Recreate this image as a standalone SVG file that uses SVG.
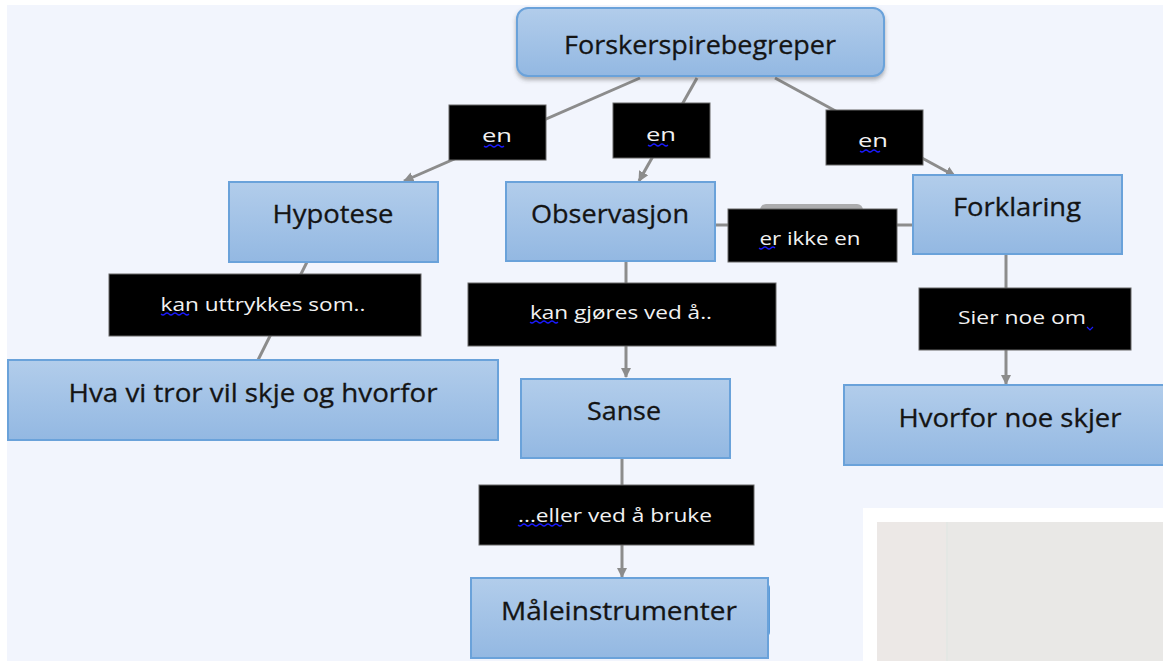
<svg xmlns="http://www.w3.org/2000/svg" width="1163" height="661" viewBox="0 0 1163 661">
<defs>
<linearGradient id="g" x1="0" y1="0" x2="0" y2="1">
<stop offset="0" stop-color="#b2cdeb"/>
<stop offset="1" stop-color="#93b8e2"/>
</linearGradient>
<marker id="ah" viewBox="0 0 10 10" refX="9" refY="5" markerWidth="3.5" markerHeight="6" orient="auto" markerUnits="strokeWidth">
<path d="M0,0 L10,5 L0,10 z" fill="#8c8c8c"/>
</marker>
<filter id="sh" x="-10%" y="-10%" width="120%" height="140%">
<feDropShadow dx="0" dy="3" stdDeviation="2" flood-color="#555" flood-opacity="0.45"/>
</filter>
</defs>
<style>
.node{fill:url(#g);stroke:#6aa2da;stroke-width:2}
.nt{font-family:"Open Sans","Noto Sans",sans-serif;font-size:26px;fill:#141414;text-anchor:middle;stroke:#141414;stroke-width:0.3}
.lab{fill:#000;stroke:#666;stroke-width:1}
.lt{font-family:"Open Sans","Noto Sans",sans-serif;font-size:18px;fill:#f2f2f2;text-anchor:middle}
.c{stroke:#8c8c8c;stroke-width:3;fill:none}
.sq{stroke:#1a1aff;stroke-width:1.2;fill:none}
</style>
<rect x="0" y="0" width="1163" height="661" fill="#ffffff"/>
<rect x="7" y="5" width="1156" height="656" fill="#f2f5fd"/>
<g id="photo">
<rect x="863" y="508" width="300" height="153" fill="#ffffff"/>
<rect x="877" y="522" width="286" height="139" fill="#e9e8e6"/>
<rect x="877" y="522" width="70" height="139" fill="#ece8e6"/>
<rect x="946" y="522" width="2" height="139" fill="#e4e7e4"/>
</g>
<g id="connectors">
<line class="c" x1="640" y1="78" x2="404" y2="181" marker-end="url(#ah)"/>
<line class="c" x1="697" y1="78" x2="639" y2="181" marker-end="url(#ah)"/>
<line class="c" x1="775" y1="78" x2="955" y2="176" marker-end="url(#ah)"/>
<line class="c" x1="715" y1="225" x2="913" y2="225"/>
<rect x="760" y="204" width="103" height="12" rx="6" fill="#9a9a9a" opacity="0.8"/>
<line class="c" x1="307" y1="262" x2="258" y2="360"/>
<line class="c" x1="626" y1="261" x2="626" y2="377" marker-end="url(#ah)"/>
<line class="c" x1="1006" y1="254" x2="1006" y2="384" marker-end="url(#ah)"/>
<line class="c" x1="622" y1="458" x2="622" y2="577" marker-end="url(#ah)"/>
</g>
<g id="n-forsker">
<rect class="node" x="517" y="8" width="367" height="68" rx="11" filter="url(#sh)"/>
<text class="nt" x="700" y="54" textLength="272" lengthAdjust="spacingAndGlyphs">Forskerspirebegreper</text>
</g>
<g id="n-hypotese">
<rect class="node" x="229" y="182" width="209" height="80"/>
<text class="nt" x="333" y="223" textLength="121" lengthAdjust="spacingAndGlyphs">Hypotese</text>
</g>
<g id="n-observasjon">
<rect class="node" x="506" y="182" width="209" height="79"/>
<text class="nt" x="610" y="223" textLength="158" lengthAdjust="spacingAndGlyphs">Observasjon</text>
</g>
<g id="n-forklaring">
<rect class="node" x="913" y="175" width="209" height="79"/>
<text class="nt" x="1017" y="216" textLength="128" lengthAdjust="spacingAndGlyphs">Forklaring</text>
</g>
<g id="n-hva">
<rect class="node" x="8" y="360" width="490" height="80"/>
<text class="nt" x="253" y="402" textLength="369" lengthAdjust="spacingAndGlyphs">Hva vi tror vil skje og hvorfor</text>
</g>
<g id="n-sanse">
<rect class="node" x="521" y="379" width="209" height="79"/>
<text class="nt" x="624" y="420" textLength="74" lengthAdjust="spacingAndGlyphs">Sanse</text>
</g>
<g id="n-hvorfor">
<rect class="node" x="844" y="385" width="320" height="80"/>
<text class="nt" x="1010" y="427" textLength="223" lengthAdjust="spacingAndGlyphs">Hvorfor noe skjer</text>
</g>
<g id="n-maale">
<rect x="762" y="584" width="8" height="52" rx="4" fill="#5b9bd8"/>
<rect class="node" x="471" y="578" width="297" height="80"/>
<text class="nt" x="619" y="620" textLength="236" lengthAdjust="spacingAndGlyphs">Måleinstrumenter</text>
</g>
<g id="l-en1">
<rect class="lab" x="449" y="105" width="97" height="55"/>
<text class="lt" x="497" y="142" textLength="30" lengthAdjust="spacingAndGlyphs">en</text>
<path class="sq" d="M484,146 q2,2 4,0 t4,0 t4,0 t4,0 t4,0"/>
</g>
<g id="l-en2">
<rect class="lab" x="613" y="103" width="97" height="55"/>
<text class="lt" x="661" y="141" textLength="30" lengthAdjust="spacingAndGlyphs">en</text>
<path class="sq" d="M648,145 q2,2 4,0 t4,0 t4,0 t4,0 t4,0"/>
</g>
<g id="l-en3">
<rect class="lab" x="826" y="110" width="97" height="55"/>
<text class="lt" x="873" y="147" textLength="30" lengthAdjust="spacingAndGlyphs">en</text>
<path class="sq" d="M860,151 q2,2 4,0 t4,0 t4,0 t4,0 t4,0"/>
</g>
<g id="l-erikke">
<rect class="lab" x="728" y="209" width="169" height="53"/>
<text class="lt" x="810" y="245" textLength="101" lengthAdjust="spacingAndGlyphs">er ikke en</text>
<path class="sq" d="M759,248 q2,2 4,0 t4,0 t4,0 t4,0"/>
</g>
<g id="l-uttrykkes">
<rect class="lab" x="109" y="274" width="312" height="62"/>
<text class="lt" x="263" y="311" textLength="205" lengthAdjust="spacingAndGlyphs">kan uttrykkes som..</text>
<path class="sq" d="M161,314 q2,2 4,0 t4,0 t4,0 t4,0 t4,0 t4,0 t4,0"/>
</g>
<g id="l-gjores">
<rect class="lab" x="468" y="283" width="308" height="63"/>
<text class="lt" x="621" y="319" textLength="182" lengthAdjust="spacingAndGlyphs">kan gjøres ved å..</text>
<path class="sq" d="M530,322 q2,2 4,0 t4,0 t4,0 t4,0 t4,0 t4,0 t4,0"/>
</g>
<g id="l-sier">
<rect class="lab" x="919" y="288" width="212" height="62"/>
<text class="lt" x="1022" y="324" textLength="128" lengthAdjust="spacingAndGlyphs">Sier noe om</text>
<path class="sq" d="M1087,327 l3,3 l3,-3"/>
</g>
<g id="l-eller">
<rect class="lab" x="479" y="485" width="275" height="60"/>
<text class="lt" x="615" y="522" textLength="194" lengthAdjust="spacingAndGlyphs">...eller ved å bruke</text>
<path class="sq" d="M518,525 q2,2 4,0 t4,0 t4,0 t4,0 t4,0 t4,0 t4,0 t4,0 t4,0 t4,0 t4,0"/>
</g>
</svg>
